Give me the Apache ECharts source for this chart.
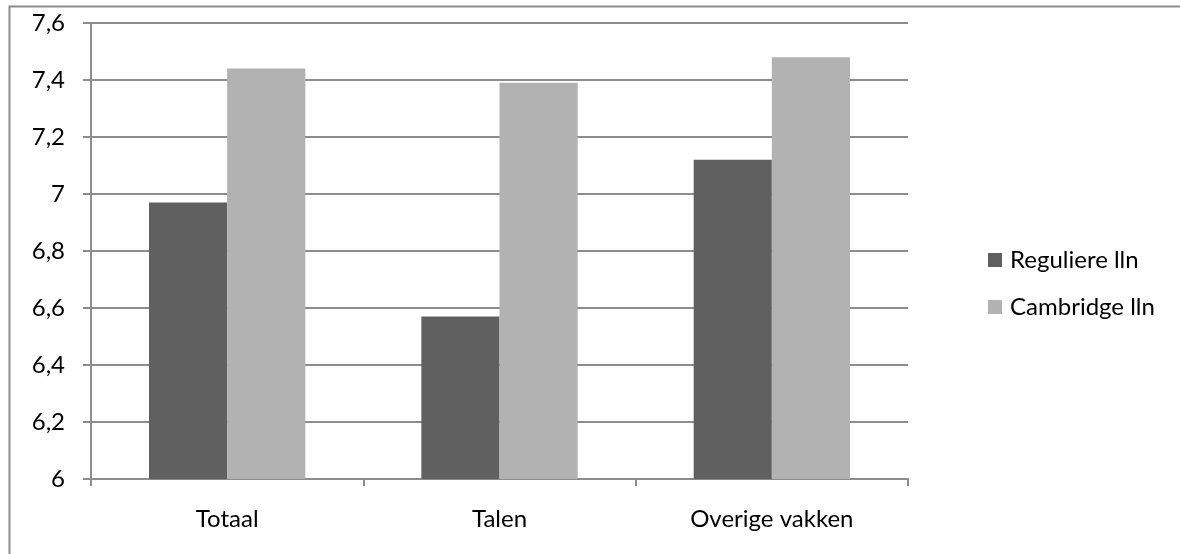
<!DOCTYPE html>
<html>
<head>
<meta charset="utf-8">
<script src="https://cdn.jsdelivr.net/npm/echarts@6/dist/echarts.min.js"></script>
<style>
  html, body { margin: 0; padding: 0; background: #fff; }
  #chart { width: 1180px; height: 554px; }
</style>
</head>
<body>
<div id="chart"></div>
<script>
// Gemiddelde cijfers per groep
const categories = ['Totaal', 'Talen', 'Overige vakken'];
const seriesNames = ['Reguliere lln', 'Cambridge lln'];
const reguliere = [6.97, 6.57, 7.12];
const cambridge = [7.44, 7.39, 7.48];
const colors = ['#606060', '#b2b2b2'];

const FONT = 'Lato, "Liberation Sans", sans-serif';
const FS = 24;
const chart = echarts.init(document.getElementById('chart'), null, { renderer: 'canvas' });

chart.setOption({
  animation: false,
  backgroundColor: '#ffffff',
  textStyle: { fontFamily: FONT },
  graphic: [{
    type: 'rect',
    shape: { x: 9.5, y: 6.5, width: 1200, height: 600 },
    style: { fill: 'none', stroke: '#8c8c8c', lineWidth: 2 },
    silent: true
  }],
  grid: { left: 91, right: 272, top: 23, bottom: 75, containLabel: false },
  legend: {
    orient: 'vertical',
    left: 983,
    top: 243,
    itemWidth: 14,
    itemHeight: 14,
    itemGap: 23,
    icon: 'rect',
    textStyle: { fontFamily: FONT, fontSize: FS, color: '#000', padding: [0, 0, 0, 3] },
    data: seriesNames
  },
  xAxis: {
    type: 'category',
    data: categories,
    axisLine: { lineStyle: { color: '#8c8c8c', width: 2 } },
    axisTick: { show: true, length: 7, alignWithLabel: false, lineStyle: { color: '#8c8c8c', width: 2 } },
    axisLabel: { color: '#000', fontFamily: FONT, fontSize: FS, margin: 28 },
    splitLine: { show: false }
  },
  yAxis: {
    type: 'value',
    min: 6,
    max: 7.6,
    interval: 0.2,
    axisLine: { show: true, lineStyle: { color: '#8c8c8c', width: 2 } },
    axisTick: { show: true, length: 8, lineStyle: { color: '#8c8c8c', width: 2 } },
    axisLabel: {
      color: '#000', fontFamily: FONT, fontSize: FS, margin: 26,
      formatter: v => {
        const r = Math.round(v * 10) / 10;
        return String(r).replace('.', ',');
      }
    },
    splitLine: { show: true, lineStyle: { color: '#8c8c8c', width: 2 } }
  },
  series: [
    {
      name: seriesNames[0], type: 'bar', data: reguliere,
      itemStyle: { color: colors[0] },
      barGap: '0%', barCategoryGap: '42.6%'
    },
    {
      name: seriesNames[1], type: 'bar', data: cambridge,
      itemStyle: { color: colors[1] },
      barGap: '0%', barCategoryGap: '42.6%'
    }
  ]
});
</script>
</body>
</html>
